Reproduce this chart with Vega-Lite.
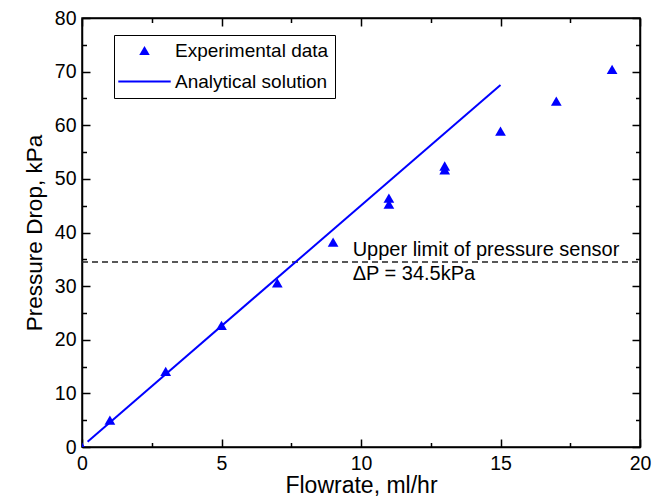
{
  "$schema": "https://vega.github.io/schema/vega-lite/v6.json",
  "width": 558,
  "height": 429,
  "autosize": "none",
  "padding": {"left": 82, "top": 18, "right": 25, "bottom": 57},
  "background": "white",
  "config": {
    "view": {"stroke": "black", "strokeWidth": 1.5},
    "font": "Liberation Sans",
    "axis": {
      "grid": false,
      "labelFlush": false,
      "labelOverlap": false,
      "domainColor": "black",
      "domainWidth": 1.5,
      "tickColor": "black",
      "tickWidth": 1.5,
      "labelColor": "black",
      "titleColor": "black",
      "labelFont": "Liberation Sans",
      "titleFont": "Liberation Sans",
      "labelFontSize": 19.5,
      "titleFontSize": 22.5,
      "titleFontWeight": "normal"
    },
    "legend": {
      "orient": "none",
      "legendX": 32,
      "legendY": 17,
      "strokeColor": "black",
      "fillColor": "white",
      "padding": 6,
      "symbolSize": 110,
      "symbolOffset": 15,
      "labelOffset": 21,
      "rowPadding": 11,
      "labelFont": "Liberation Sans",
      "labelFontSize": 19,
      "labelColor": "black",
      "symbolOpacity": 1,
      "symbolStrokeWidth": 0
    }
  },
  "datasets": {
    "exp": [
      {"flow": 0, "dp": 0, "series": "Experimental data"},
      {"flow": 1, "dp": 5.0, "series": "Experimental data"},
      {"flow": 3, "dp": 14.1, "series": "Experimental data"},
      {"flow": 5, "dp": 22.7, "series": "Experimental data"},
      {"flow": 7, "dp": 30.6, "series": "Experimental data"},
      {"flow": 9, "dp": 38.2, "series": "Experimental data"},
      {"flow": 11, "dp": 46.4, "series": "Experimental data"},
      {"flow": 11, "dp": 45.3, "series": "Experimental data"},
      {"flow": 13, "dp": 52.4, "series": "Experimental data"},
      {"flow": 13, "dp": 51.7, "series": "Experimental data"},
      {"flow": 15, "dp": 58.9, "series": "Experimental data"},
      {"flow": 17, "dp": 64.5, "series": "Experimental data"},
      {"flow": 19, "dp": 70.4, "series": "Experimental data"}
    ],
    "ana": [
      {"flow": 0.2, "dp": 1.0, "series": "Analytical solution"},
      {"flow": 15, "dp": 67.5, "series": "Analytical solution"}
    ],
    "limit": [
      {"flow": 0, "flow2": 20, "dp": 34.5}
    ],
    "notes": [
      {"flow": 9.7, "dp": 35.6, "label": "Upper limit of pressure sensor"},
      {"flow": 9.7, "dp": 31.1, "label": "ΔP = 34.5kPa"}
    ]
  },
  "resolve": {"axis": {"x": "independent", "y": "independent"}},
  "layer": [
    {
      "data": {"name": "limit"},
      "mark": {"type": "rule", "strokeDash": [6, 4], "color": "#222222", "strokeWidth": 1.3},
      "encoding": {
        "x": {"field": "flow", "type": "quantitative",
              "scale": {"domain": [0, 20], "nice": false},
              "axis": {"orient": "bottom", "values": [0, 5, 10, 15, 20], "tickSize": -8, "labelPadding": 15, "title": "Flowrate, ml/hr", "titleFontSize": 23, "titlePadding": 2}},
        "x2": {"field": "flow2"},
        "y": {"field": "dp", "type": "quantitative",
              "scale": {"domain": [0, 80], "nice": false},
              "axis": {"orient": "left", "values": [0, 10, 20, 30, 40, 50, 60, 70, 80], "tickSize": -8, "labelPadding": 14, "title": "Pressure Drop, kPa", "titlePadding": 8}}
      }
    },
    {
      "data": {"name": "notes"},
      "mark": {"type": "text", "align": "left", "baseline": "alphabetic", "fontSize": 20, "font": "Liberation Sans", "color": "black"},
      "encoding": {
        "x": {"field": "flow", "type": "quantitative",
              "scale": {"domain": [0, 20], "nice": false},
              "axis": {"orient": "top", "values": [0, 5, 10, 15, 20], "tickSize": -8, "labels": false, "title": null}},
        "y": {"field": "dp", "type": "quantitative",
              "scale": {"domain": [0, 80], "nice": false},
              "axis": {"orient": "right", "values": [0, 10, 20, 30, 40, 50, 60, 70, 80], "tickSize": -8, "labels": false, "title": null}},
        "text": {"field": "label", "type": "nominal"}
      }
    },
    {
      "data": {"name": "ana"},
      "mark": {"type": "line", "strokeWidth": 2, "color": "#0000ff"},
      "encoding": {
        "x": {"field": "flow", "type": "quantitative",
              "scale": {"domain": [0, 20], "nice": false},
              "axis": {"orient": "bottom", "values": [2.5, 7.5, 12.5, 17.5], "tickSize": -4.5, "labels": false, "domain": false, "title": null}},
        "y": {"field": "dp", "type": "quantitative",
              "scale": {"domain": [0, 80], "nice": false},
              "axis": {"orient": "left", "values": [5, 15, 25, 35, 45, 55, 65, 75], "tickSize": -4.5, "labels": false, "domain": false, "title": null}}
      }
    },
    {
      "data": {"name": "exp"},
      "mark": {"type": "point", "filled": true, "size": 115, "opacity": 1, "clip": true},
      "encoding": {
        "x": {"field": "flow", "type": "quantitative",
              "scale": {"domain": [0, 20], "nice": false},
              "axis": {"orient": "top", "values": [2.5, 7.5, 12.5, 17.5], "tickSize": -4.5, "labels": false, "domain": false, "title": null}},
        "y": {"field": "dp", "type": "quantitative",
              "scale": {"domain": [0, 80], "nice": false},
              "axis": {"orient": "right", "values": [5, 15, 25, 35, 45, 55, 65, 75], "tickSize": -4.5, "labels": false, "domain": false, "title": null}},
        "color": {"field": "series", "type": "nominal",
                  "scale": {"domain": ["Experimental data", "Analytical solution"], "range": ["#0000ff", "#0000ff"]},
                  "legend": {"title": null}},
        "shape": {"field": "series", "type": "nominal",
                  "scale": {"domain": ["Experimental data", "Analytical solution"], "range": ["triangle-up", "M-5,-0.2H5V0.2H-5Z"]},
                  "legend": {"title": null}}
      }
    }
  ]
}
